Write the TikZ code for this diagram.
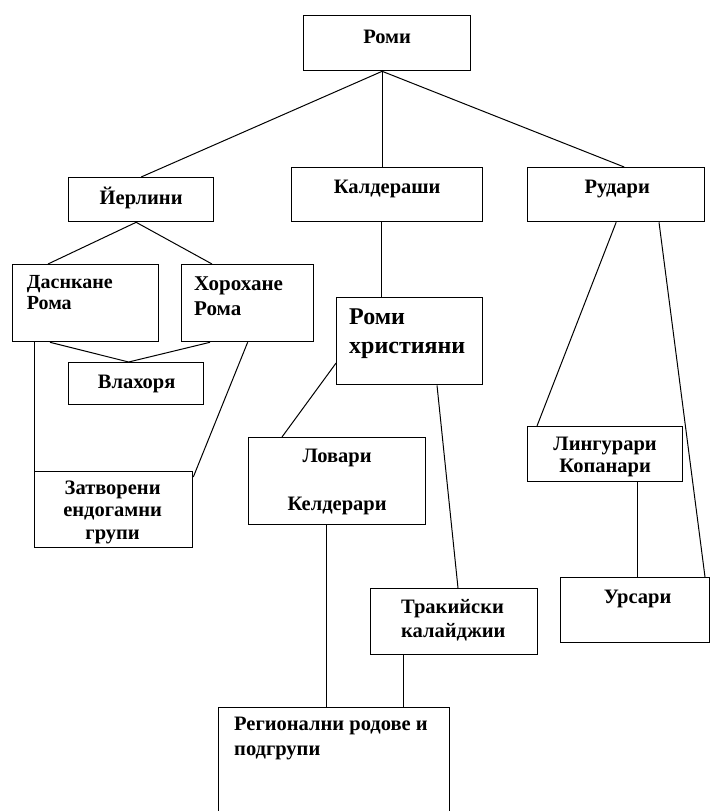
\documentclass[tikz,border=0pt]{standalone}
\usepackage{fontspec}
\setmainfont{Liberation Serif}
\usetikzlibrary{calc}
\tikzset{
  kutiya/.style={rectangle, draw=black, line width=1.3pt, anchor=north west, inner sep=0pt},
  nadpis/.style={font=\bfseries\fontsize{20.5}{24}\selectfont, inner sep=0pt, align=#1},
  nadpis/.default=center,
  vrazka/.style={draw=black, line width=1pt},
}

\begin{document}
\begin{tikzpicture}[x=1pt, y=-1pt]
  \useasboundingbox (0,0) rectangle (710,811);
  % gornite nivoa
  \node[kutiya, minimum width=167pt, minimum height=55pt,
        label={[nadpis, anchor=base, yshift=-28pt]north:Роми}] (romi) at (303,15) {};
  \node[kutiya, minimum width=191pt, minimum height=54pt,
        label={[nadpis, anchor=base, yshift=-26pt]north:Калдераши}] (kald) at (291,167) {};
  \node[kutiya, minimum width=177pt, minimum height=54pt,
        label={[nadpis, anchor=base, xshift=1pt, yshift=-26pt]north:Рудари}] (rud) at (527,167) {};
  \node[kutiya, minimum width=145pt, minimum height=44pt,
        label={[nadpis, anchor=base, yshift=-27pt]north:Йерлини}] (yer) at (68,177) {};
  % Йерлини
  \node[kutiya, minimum width=146pt, minimum height=77pt,
        label={[nadpis=left, font=\bfseries\fontsize{20}{21}\selectfont, anchor=base west, xshift=14.7pt, yshift=-45pt]north west:Даснкане\\Рома}] (dasn) at (12,264) {};
  \node[kutiya, minimum width=132pt, minimum height=77pt,
        label={[nadpis=left, font=\bfseries\fontsize{21}{25}\selectfont, anchor=base west, xshift=13pt, yshift=-51pt]north west:Хорохане\\Рома}] (hor) at (181,264) {};
  \node[kutiya, minimum width=135pt, minimum height=42pt,
        label={[nadpis, anchor=base, xshift=0.5pt, yshift=-26pt]north:Влахоря}] (vlah) at (68,362) {};
  \node[kutiya, minimum width=158pt, minimum height=76pt,
        label={[nadpis, font=\bfseries\fontsize{20.5}{22.5}\selectfont, anchor=base, xshift=-1pt, yshift=-68pt]north:Затворени\\ендогамни\\групи}] (zatv) at (34,471) {};
  % Калдераши
  \node[kutiya, minimum width=146pt, minimum height=87pt,
        label={[nadpis=left, font=\bfseries\fontsize{24}{29}\selectfont, anchor=base west, xshift=13pt, yshift=-56pt]north west:Роми\\християни}] (romihr) at (336,297) {};
  \node[kutiya, minimum width=177pt, minimum height=87pt,
        label={[nadpis, anchor=base, yshift=-73pt]north:Ловари\\[24pt]Келдерари}] (lov) at (248,437) {};
  \node[kutiya, minimum width=167pt, minimum height=66pt,
        label={[nadpis=left, anchor=base west, xshift=31pt, yshift=-49pt]north west:Тракийски\\калайджии}] (trak) at (370,588) {};
  \node[kutiya, minimum width=231pt, minimum height=120pt,
        label={[nadpis=left, font=\bfseries\fontsize{20.5}{25}\selectfont, anchor=base west, xshift=16pt, yshift=-48pt]north west:Регионални родове и\\подгрупи}] (reg) at (218,707) {};
  % Рудари
  \node[kutiya, minimum width=155pt, minimum height=55pt,
        label={[nadpis, font=\bfseries\fontsize{20.5}{22}\selectfont, anchor=base, yshift=-46pt]north:Лингурари\\Копанари}] (ling) at (527,426) {};
  \node[kutiya, minimum width=149pt, minimum height=65pt,
        label={[nadpis, anchor=base, xshift=2.5pt, yshift=-26pt]north:Урсари}] (urs) at (560,577) {};

  % vrazki
  \coordinate (rt) at ([xshift=-5pt]romi.south);
  \draw[vrazka] (rt) -- (yer.north);
  \draw[vrazka] (rt) -- (rt |- kald.north);
  \draw[vrazka] (rt) -- ([xshift=8pt]rud.north);
  \coordinate (yt) at ([xshift=-5pt]yer.south);
  \draw[vrazka] (yt) -- ([xshift=36pt]dasn.north west);
  \draw[vrazka] (yt) -- ([xshift=31pt]hor.north west);
  \coordinate (vt) at ([xshift=-7.5pt]vlah.north);
  \draw[vrazka] ([xshift=38pt]dasn.south west) -- (vt);
  \draw[vrazka] ([xshift=29pt]hor.south west) -- (vt);
  \draw[vrazka] ([xshift=22pt]dasn.south west) -- (zatv.north west);
  \draw[vrazka] (hor.south) -- ([yshift=-6pt]zatv.north east);
  \draw[vrazka] ([xshift=-6pt]kald.south) coordinate (kb) -- (kb |- romihr.north);
  \draw[vrazka] ([yshift=-22pt]romihr.west) -- ([xshift=34pt]lov.north west);
  \draw[vrazka] ([xshift=101pt]romihr.south west) -- ([xshift=88pt]trak.north west);
  \draw[vrazka] ([xshift=-10.5pt]lov.south) coordinate (lb) -- (lb |- reg.north);
  \draw[vrazka] ([xshift=33pt]trak.south west) coordinate (tb) -- (tb |- reg.north);
  \draw[vrazka] (rud.south) -- ([xshift=10pt]ling.north west);
  \draw[vrazka] ([xshift=132pt]rud.south west) -- ([xshift=145pt]urs.north west);
  \draw[vrazka] ([xshift=110pt]ling.south west) coordinate (kb2) -- (kb2 |- urs.north);
\end{tikzpicture}
\end{document}
